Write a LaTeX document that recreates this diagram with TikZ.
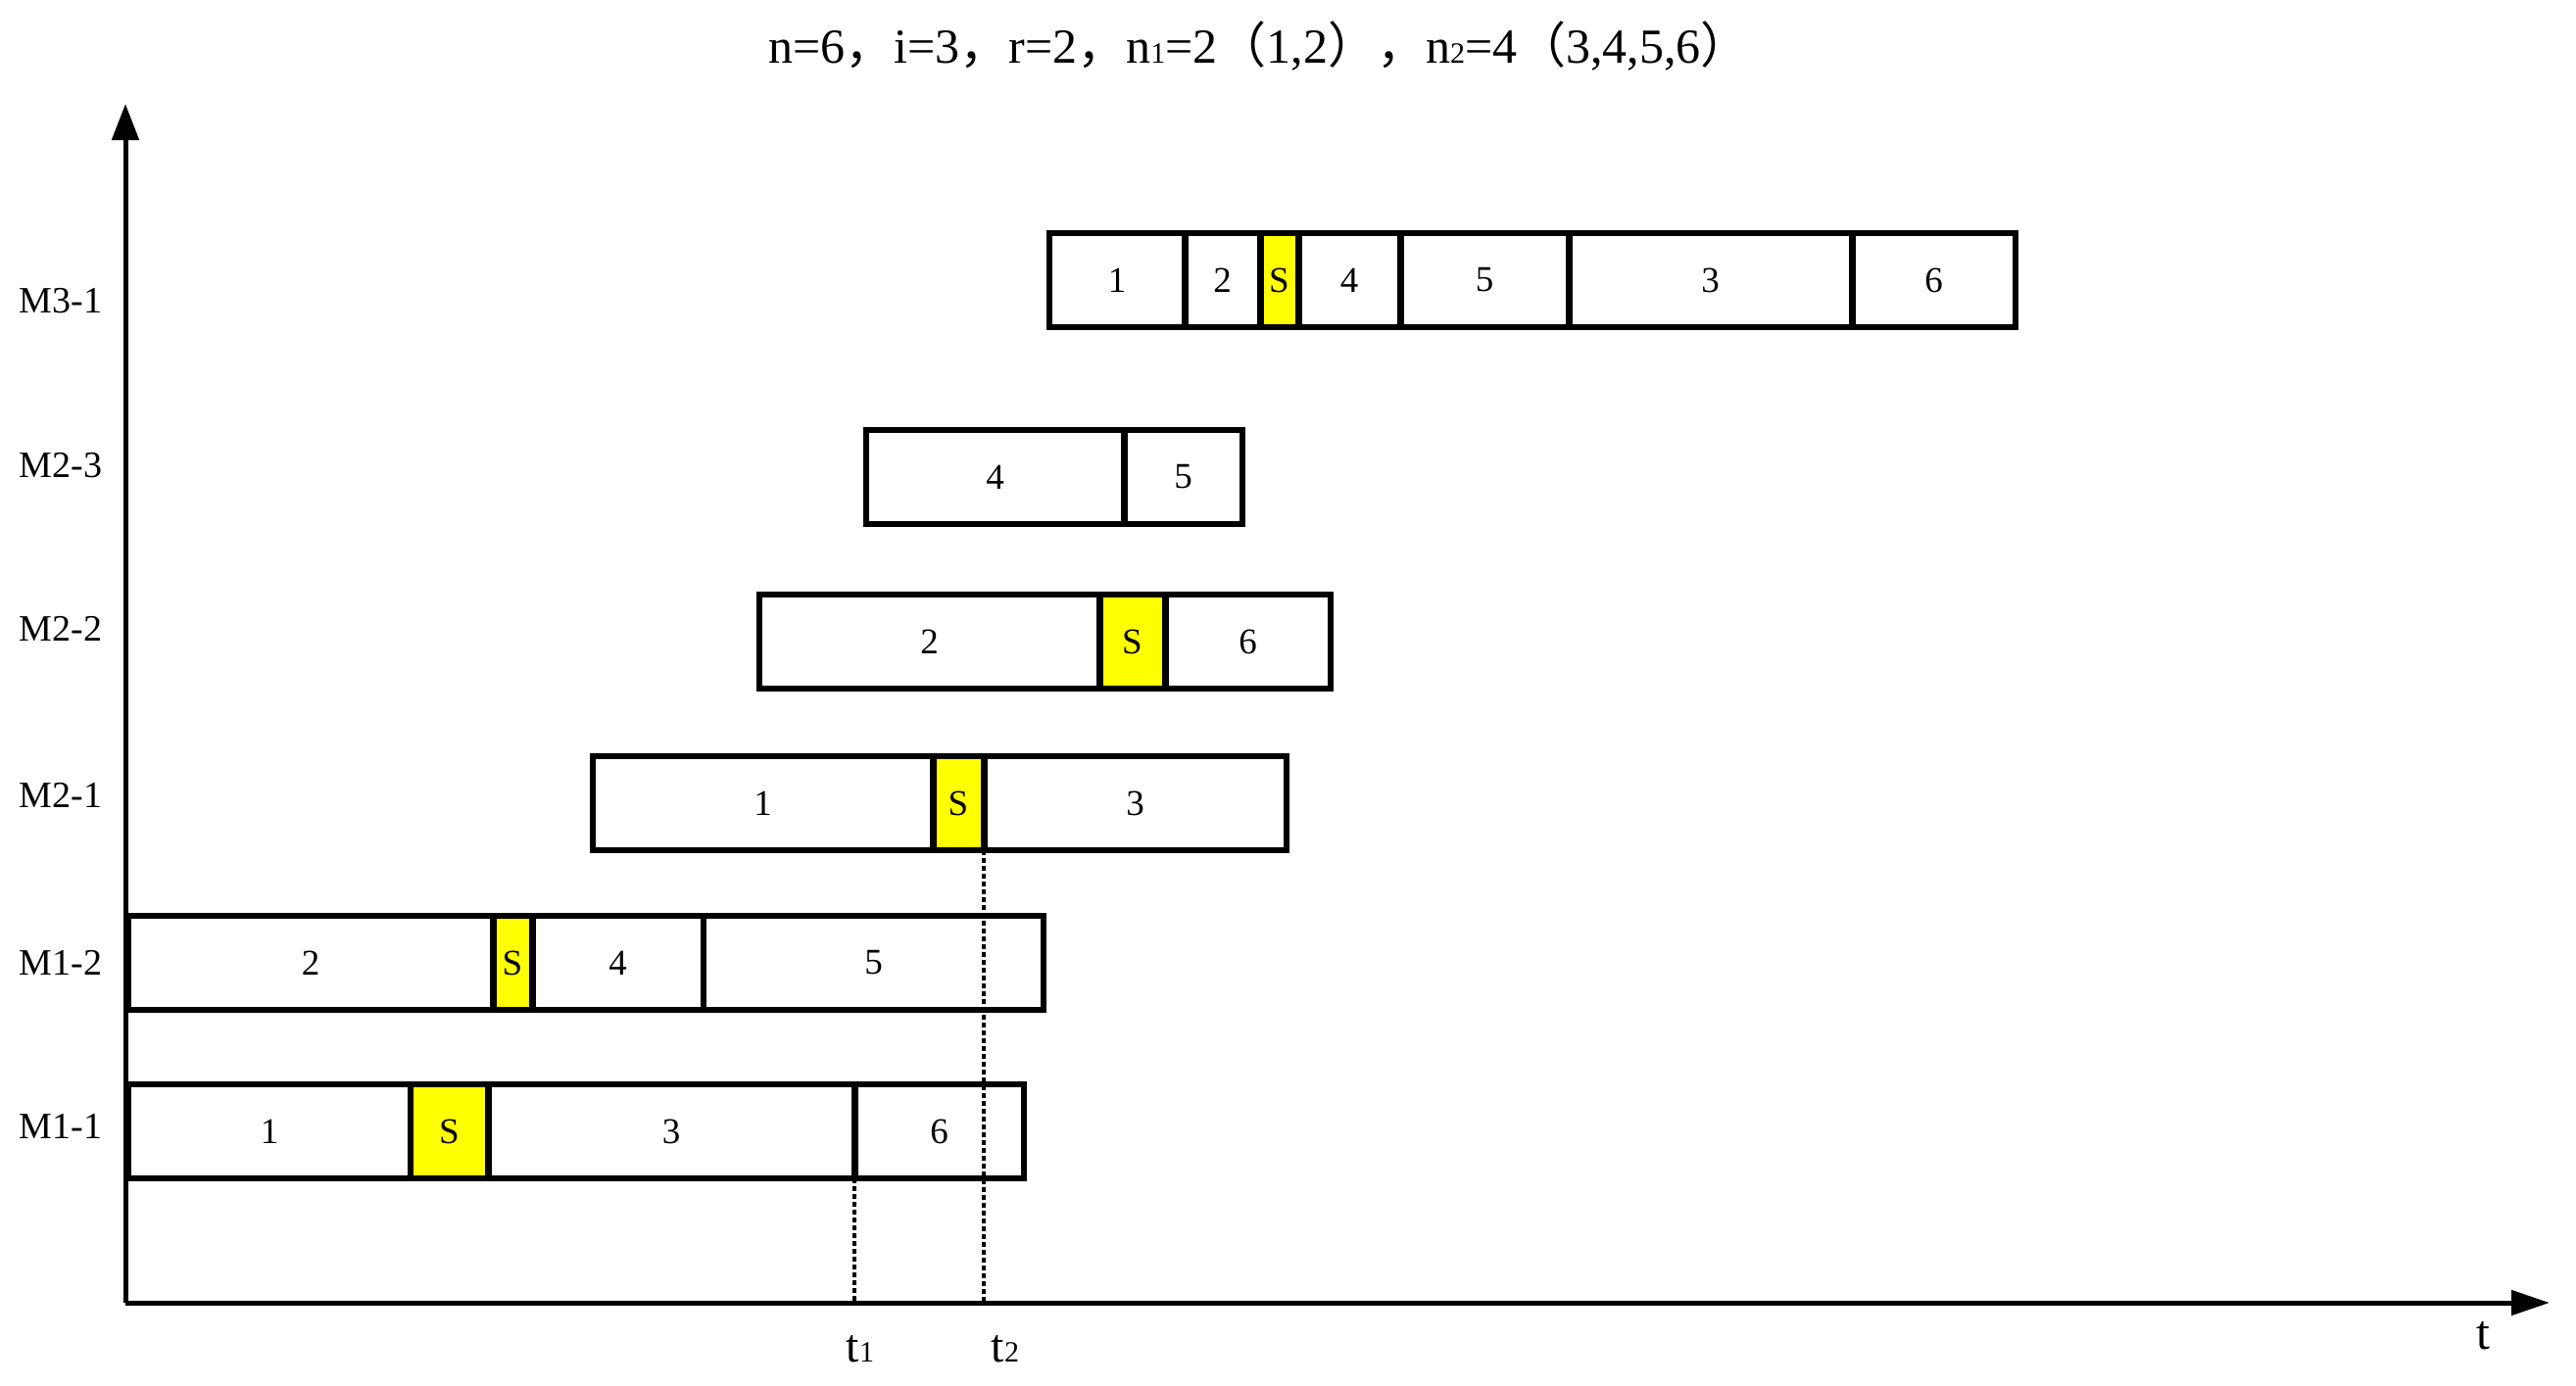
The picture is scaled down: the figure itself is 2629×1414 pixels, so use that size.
\documentclass[tikz,border=0pt]{standalone}
\usepackage{fontspec}
\setmainfont{Liberation Serif}
\newfontfamily\cjk{Noto Sans CJK SC}
\usetikzlibrary{arrows.meta}
\definecolor{syel}{RGB}{255,255,0}
\tikzset{
  cellbox/.style={draw, line width=5.5pt, inner sep=0pt, outer sep=0pt,
    minimum height=96pt, font=\fontsize{37}{40}\selectfont},
  setupbox/.style={cellbox, fill=syel},
  divline/.style={line width=7pt},
  rowlab/.style={font=\fontsize{38}{42}\selectfont, inner sep=0pt},
  axisline/.style={line width=5pt},
  guide/.style={line width=4pt, dash pattern=on 5pt off 3pt},
  tlab/.style={font=\fontsize{48}{52}\selectfont, inner sep=0pt, anchor=base},
}
\newcommand\mkcell[6]{%
  \node[#6, minimum width={#3-#2}] (#1) at ({(#2+#3)/2},{#4+48}) {#5};}
\newcommand\subd[1]{{\fontsize{30}{32}\selectfont #1}}
\newcommand\divid[1]{\draw[divline] (#1.north east) -- (#1.south east);}
\begin{document}
\begin{tikzpicture}[x=1pt,y=-1pt]
\useasboundingbox (0,0) rectangle (2629,1414);

% title
\node[font=\fontsize{50}{54}\selectfont, inner sep=0pt] (title) at (1285,47)
  {n=6{\cjk ，}i=3{\cjk ，}r=2{\cjk ，}n\subd{1}=2{\cjk （}1,2{\cjk ）}{\cjk ，}n\subd{2}=4{\cjk （}3,4,5,6{\cjk ）}};

% axes
\coordinate (O) at (128,1330);
\coordinate (ytip) at (128,106);
\coordinate (xtip) at (2602,1330);
\draw[axisline, -{Triangle[length=37pt,width=27pt]}] (O) -- (ytip);
\draw[axisline, -{Triangle[length=39pt,width=25pt]}] (O) -- (xtip);
\node[tlab, font=\fontsize{50}{54}\selectfont] (tax) at (2534,1377) {t};

% row labels
\node[rowlab] (lM31) at (62,307) {M3-1};
\node[rowlab] (lM23) at (62,475) {M2-3};
\node[rowlab] (lM22) at (62,642) {M2-2};
\node[rowlab] (lM21) at (62,812) {M2-1};
\node[rowlab] (lM12) at (62,983) {M1-2};
\node[rowlab] (lM11) at (62,1150) {M1-1};

% M3-1
\mkcell{a1}{1071}{1209}{238}{1}{cellbox}
\mkcell{a2}{1209}{1286}{238}{2}{cellbox}
\mkcell{aS}{1286}{1325}{238}{S}{setupbox}
\mkcell{a4}{1325}{1429}{238}{4}{cellbox}
\mkcell{a5}{1429}{1601}{238}{5}{cellbox}
\mkcell{a3}{1601}{1890}{238}{3}{cellbox}
\mkcell{a6}{1890}{2057}{238}{6}{cellbox}
\divid{a1}\divid{a2}\divid{aS}\divid{a4}\divid{a5}\divid{a3}

% M2-3
\mkcell{b4}{884}{1147}{439}{4}{cellbox}
\mkcell{b5}{1147}{1268}{439}{5}{cellbox}
\divid{b4}

% M2-2
\mkcell{c2}{775}{1122}{607}{2}{cellbox}
\mkcell{cS}{1122}{1189}{607}{S}{setupbox}
\mkcell{c6}{1189}{1358}{607}{6}{cellbox}
\divid{c2}\divid{cS}

% M2-1
\mkcell{d1}{605}{952}{772}{1}{cellbox}
\mkcell{dS}{952}{1004}{772}{S}{setupbox}
\mkcell{d3}{1004}{1313}{772}{3}{cellbox}
\divid{d1}\divid{dS}

% M1-2
\mkcell{e2}{131}{503}{935}{2}{cellbox}
\mkcell{eS}{503}{543}{935}{S}{setupbox}
\mkcell{e4}{543}{718}{935}{4}{cellbox}
\mkcell{e5}{718}{1065}{935}{5}{cellbox}
\divid{e2}\divid{eS}

% M1-1
\mkcell{f1}{131}{419}{1107}{1}{cellbox}
\mkcell{fS}{419}{498}{1107}{S}{setupbox}
\mkcell{f3}{498}{872}{1107}{3}{cellbox}
\mkcell{f6}{872}{1045}{1107}{6}{cellbox}
\divid{fS}\divid{f3}

% time marks
\coordinate (t1) at (872,1330);
\coordinate (t2) at (1004,1330);
\draw[guide] (f3.south east) -- (t1);
\draw[guide] (dS.south east) -- (t2);
\node[tlab] (t1lab) at (878,1390) {t\subd{1}};
\node[tlab] (t2lab) at (1026,1390) {t\subd{2}};
\end{tikzpicture}
\end{document}
